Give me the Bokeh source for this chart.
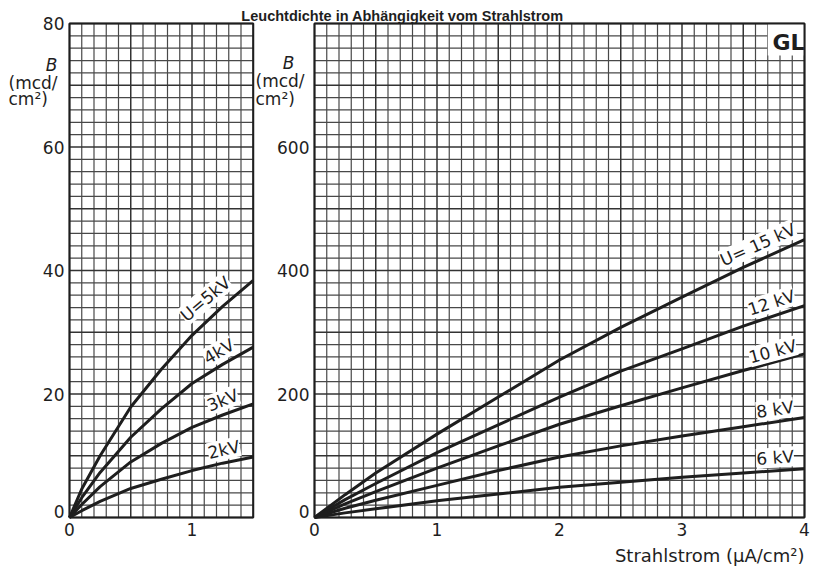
import numpy as np
from bokeh.plotting import figure
from bokeh.models import Range1d, Label, ColumnDataSource
from bokeh.core.properties import value
from bokeh.embed import file_html
from bokeh.resources import INLINE

# ---------------- data ----------------
title_text = "Leuchtdichte in Abhängigkeit vom Strahlstrom"

# left chart: low voltages, B in mcd/cm², current in µA/cm²
x_left = [0, 0.1, 0.25, 0.5, 0.75, 1.0, 1.25, 1.5]
b_5kv = [0, 4.6, 10.0, 17.9, 24.0, 29.5, 34.2, 38.4]
b_4kv = [0, 3.2, 7.3, 13.0, 17.6, 21.7, 24.8, 27.6]
b_3kv = [0, 2.1, 5.0, 9.0, 12.0, 14.6, 16.6, 18.4]
b_2kv = [0, 1.1, 2.6, 4.7, 6.2, 7.6, 8.8, 9.8]
left_series = [b_5kv, b_4kv, b_3kv, b_2kv]
left_names = ["U=5kV", "4kV", "3kV", "2kV"]

# right chart: high voltages
x_right = [0, 0.25, 0.5, 1.0, 1.5, 2.0, 2.5, 3.0, 3.5, 4.0]
b_15kv = [0, 37, 72, 135, 195, 255, 308, 357, 405, 450]
b_12kv = [0, 29, 55, 105, 150, 195, 237, 273, 310, 343]
b_10kv = [0, 22, 42, 80, 116, 151, 181, 210, 238, 265]
b_8kv = [0, 15, 28, 52, 76, 98, 116, 132, 147, 162]
b_6kv = [0, 7.5, 14, 27, 38, 49, 57, 65, 72, 79]
right_series = [b_15kv, b_12kv, b_10kv, b_8kv, b_6kv]
right_names = ["U= 15 kV", "12 kV", "10 kV", "8 kV", "6 kV"]

left_yticks = [0, 20, 40, 60, 80]
right_yticks = [0, 200, 400, 600]
left_xticks = [0, 1]
right_xticks = [0, 1, 2, 3, 4]

# ---------------- layout constants (page pixels) ----------------
W, H = 813, 572
PX = 122.5           # pixels per µA/cm² (both charts)
PY_L = 6.175         # pixels per mcd/cm² (left)
PY_R = PY_L / 10.0   # right
L0X, R0X, Y0 = 69, 314, 517

FONT = "DejaVu Sans"
INK = "#1e1e1e"

p = figure(width=W, height=H, output_backend="svg", toolbar_location=None,
           x_axis_location=None, y_axis_location=None,
           x_range=Range1d(-L0X / PX, (W - L0X) / PX),
           y_range=Range1d(-(H - Y0) / PY_L, Y0 / PY_L),
           min_border=0)
p.extra_x_ranges = {"r": Range1d(-R0X / PX, (W - R0X) / PX)}
p.extra_y_ranges = {"r": Range1d(-(H - Y0) / PY_R, Y0 / PY_R)}
p.outline_line_color = None
p.grid.visible = False
p.background_fill_color = "white"
p.border_fill_color = "white"

# ---------------- grid paper ----------------
def grid(xmax, xstep, ymax, ystep, xr, yr):
    xs = np.round(np.arange(0, xmax + xstep / 2, xstep), 6)
    ys = np.round(np.arange(0, ymax + ystep / 2, ystep), 6)
    for heavy in (False, True):
        vx = [x for i, x in enumerate(xs) if (i % 5 == 0) == heavy]
        hy = [y for i, y in enumerate(ys) if (i % 5 == 0) == heavy]
        kw = dict(line_color="#333333" if heavy else "#484848",
                  line_width=1.5 if heavy else 1.2,
                  x_range_name=xr, y_range_name=yr)
        p.segment(x0=vx, y0=[0] * len(vx), x1=vx, y1=[ymax] * len(vx), **kw)
        p.segment(x0=[0] * len(hy), y0=hy, x1=[xmax] * len(hy), y1=hy, **kw)

grid(1.5, 0.1, 80, 2, "default", "default")
grid(4.0, 0.1, 800, 20, "r", "r")

# white box for "GL"
p.quad(left=[3.70], right=[4.0], bottom=[748], top=[800], fill_color="white",
       line_color=None, x_range_name="r", y_range_name="r")

# ---------------- curves ----------------
for ys in left_series:
    p.line(x_left, ys, line_color=INK, line_width=3, line_join="round")
for ys in right_series:
    p.line(x_right, ys, line_color=INK, line_width=3, line_join="round",
           x_range_name="r", y_range_name="r")

# chart borders
p.quad(left=[0], right=[1.5], bottom=[0], top=[80], fill_color=None,
       line_color=INK, line_width=2)
p.quad(left=[0], right=[4], bottom=[0], top=[800], fill_color=None,
       line_color=INK, line_width=2, x_range_name="r", y_range_name="r")

# ---------------- curve labels ----------------
left_lab_pos = [(1.11, 35.4, 40), (1.22, 26.9, 30), (1.25, 19.0, 22), (1.26, 11.0, 13)]
for name, (lx, ly, ang) in zip(left_names, left_lab_pos):
    p.add_layout(Label(x=lx, y=ly, text=name, angle=ang, angle_units="deg",
                       text_align="center", text_baseline="middle",
                       text_font=FONT, text_font_size="17px",
                       text_color=INK, background_fill_color="white"))
right_lab_pos = [(3.62, 442, 24), (3.73, 348, 18), (3.74, 269, 15), (3.76, 175, 8), (3.76, 97, 4)]
for name, (lx, ly, ang) in zip(right_names, right_lab_pos):
    p.add_layout(Label(x=lx, y=ly, text=name, angle=ang, angle_units="deg",
                       text_align="center", text_baseline="middle",
                       x_range_name="r", y_range_name="r",
                       text_font=FONT, text_font_size="17px",
                       text_color=INK, background_fill_color="white"))

# ---------------- tick labels (through the scales) ----------------
def texts(xs, ys, ts, xr="default", yr="default", align="center",
          baseline="middle", size="17px", style="normal", font=FONT):
    src = ColumnDataSource(dict(x=xs, y=ys, t=ts))
    p.text(x="x", y="y", text="t", source=src, x_range_name=xr, y_range_name=yr,
           text_align=align, text_baseline=baseline, text_font=value(font),
           text_font_size=size, text_font_style=style, text_color=INK)

# left y ticks
texts([-5 / PX] * len(left_yticks), [v + (0.9 if v == 0 else 0) for v in left_yticks],
      [str(v) for v in left_yticks], align="right")
# right y ticks
texts([-5 / PX] * len(right_yticks), [v + (9 if v == 0 else 0) for v in right_yticks],
      [str(v) for v in right_yticks], "r", "r", align="right")
# x ticks
texts(left_xticks, [-5 / PY_L] * len(left_xticks), [str(v) for v in left_xticks],
      baseline="top")
texts(right_xticks, [-5 / PY_R] * len(right_xticks), [str(v) for v in right_xticks],
      "r", "r", baseline="top")

# ---------------- axis titles ----------------
texts([(51 - L0X) / PX], [(Y0 - 64) / PY_L], ["B"], style="italic")
texts([(8 - L0X) / PX] * 2, [(Y0 - 82) / PY_L, (Y0 - 98) / PY_L], ["(mcd/", "cm²)"],
      align="left")
texts([(288 - R0X) / PX], [(Y0 - 62) / PY_R], ["B"], "r", "r", style="italic")
texts([(255 - R0X) / PX] * 2, [(Y0 - 80) / PY_R, (Y0 - 98) / PY_R], ["(mcd/", "cm²)"],
      "r", "r", align="left")
texts([4.0], [(Y0 - 555) / PY_R], ["Strahlstrom (µA/cm²)"], "r", "r", align="right",
      size="18px")
texts([(788 - R0X) / PX], [(Y0 - 42) / PY_R], ["GL"], "r", "r", size="22px", style="bold")
texts([(402 - L0X) / PX], [(Y0 - 15) / PY_L], [title_text], size="14.5px", style="bold",
      font="Liberation Sans")

open("out.html", "w").write(file_html(p, INLINE))
